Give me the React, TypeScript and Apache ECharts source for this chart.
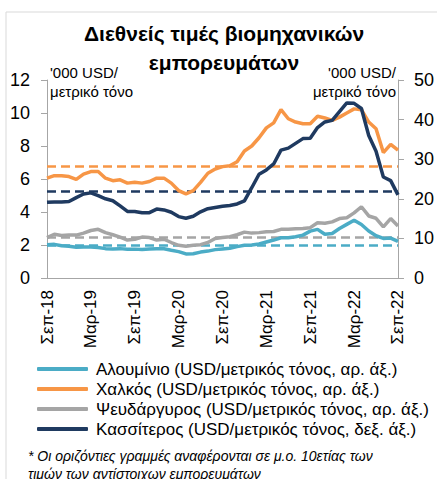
import React, { useEffect, useRef } from "react";
import * as echarts from "echarts";

const monthNames = ["Ιαν", "Φεβ", "Μαρ", "Απρ", "Μαϊ", "Ιουν", "Ιουλ", "Αυγ", "Σεπ", "Οκτ", "Νοε", "Δεκ"];
// Sep 2018 .. Sep 2022
const categories: string[] = [];
for (let k = 0; k < 49; k++) {
  const m = (8 + k) % 12;
  const y = 18 + Math.floor((8 + k) / 12);
  categories.push(`${monthNames[m]}-${y}`);
}

const aluminium = [2.02, 2.04, 1.95, 1.92, 1.86, 1.88, 1.88, 1.85, 1.78, 1.76, 1.78, 1.74, 1.75, 1.73, 1.76, 1.77, 1.77, 1.68, 1.6, 1.46, 1.47, 1.57, 1.63, 1.72, 1.76, 1.8, 1.9, 1.98, 2.0, 2.06, 2.18, 2.3, 2.44, 2.44, 2.5, 2.6, 2.84, 2.95, 2.65, 2.7, 3.0, 3.25, 3.5, 3.24, 2.85, 2.56, 2.4, 2.42, 2.22];
const copper = [6.05, 6.2, 6.2, 6.15, 5.98, 6.3, 6.45, 6.45, 6.05, 5.9, 5.95, 5.75, 5.8, 5.75, 5.85, 6.05, 6.05, 5.75, 5.3, 5.1, 5.3, 5.8, 6.35, 6.6, 6.75, 6.8, 7.05, 7.7, 8.0, 8.5, 9.1, 9.4, 10.2, 9.65, 9.45, 9.35, 9.35, 9.8, 9.7, 9.55, 9.75, 10.0, 10.25, 10.2, 9.45, 9.05, 7.6, 8.1, 7.75];
const zinc = [2.45, 2.65, 2.58, 2.6, 2.6, 2.72, 2.88, 2.95, 2.75, 2.62, 2.48, 2.3, 2.35, 2.48, 2.45, 2.3, 2.35, 2.15, 1.98, 1.92, 1.98, 2.02, 2.15, 2.4, 2.45, 2.5, 2.62, 2.78, 2.72, 2.75, 2.8, 2.82, 2.95, 2.95, 2.98, 3.0, 3.05, 3.35, 3.32, 3.4, 3.6, 3.65, 3.95, 4.32, 3.76, 3.62, 3.1, 3.6, 3.15];
const tin = [19.1, 19.2, 19.2, 19.3, 20.3, 21.2, 21.5, 20.8, 20.0, 19.5, 18.2, 16.8, 16.8, 16.5, 16.5, 17.4, 17.2, 16.6, 15.5, 15.1, 15.6, 16.7, 17.5, 17.8, 18.1, 18.3, 18.7, 19.5, 22.8, 26.2, 27.3, 28.8, 32.3, 32.8, 34.0, 35.2, 35.3, 38.0, 39.4, 39.8, 42.0, 44.2, 44.1, 42.8, 36.0, 32.0, 25.5, 24.6, 21.0];

// 10-year averages
const aluminiumAvg = 2.0;
const copperAvg = 6.8;
const zincAvg = 2.5;
const tinAvg = 22.0;

const leftTicks = { min: 0, max: 12, interval: 2 };
const rightTicks = { min: 0, max: 50, interval: 10 };

const seriesNames = [
  "Αλουμίνιο (USD/μετρικός τόνος, αρ. άξ.)",
  "Χαλκός (USD/μετρικός τόνος, αρ. άξ.)",
  "Ψευδάργυρος (USD/μετρικός τόνος, αρ. άξ.)",
  "Κασσίτερος (USD/μετρικός τόνος, δεξ. άξ.)",
];
const colors = ["#4bacc6", "#f79646", "#a5a5a5", "#1f3a60"];

const FONT = "Liberation Sans";

export default function App() {
  const ref = useRef<HTMLDivElement>(null);
  useEffect(() => {
    if (!ref.current) return;
    const chart = echarts.init(ref.current, null, { renderer: "svg" });
    const datasets = [aluminium, copper, zinc, tin];
    const avgs = [aluminiumAvg, copperAvg, zincAvg, tinAvg];
    const series: any[] = datasets.map((d, i) => ({
      name: seriesNames[i],
      type: "line",
      data: d,
      yAxisIndex: i === 3 ? 1 : 0,
      symbol: "none",
      lineStyle: { width: 3.5, color: colors[i] },
      itemStyle: { color: colors[i] },
      z: 3 + i,
      markLine: {
        silent: true,
        symbol: "none",
        label: { show: false },
        lineStyle: { type: [9, 5], width: 2.5, color: colors[i] },
        data: [{ yAxis: avgs[i] }],
        z: 2,
      },
    }));
    const axisColor = "#a6a6a6";
    chart.setOption({
      animation: false,
      textStyle: { fontFamily: FONT },
      grid: { left: 47, right: 35, top: 80, bottom: 201 },
      legend: {
        data: seriesNames,
        orient: "vertical",
        left: 32,
        top: 354,
        itemWidth: 51,
        itemHeight: 4,
        itemGap: 0,
        icon: "roundRect",
        textStyle: { fontFamily: FONT, fontSize: 17, color: "#000", lineHeight: 20, padding: [0, 0, 0, 3] },
        selectedMode: false,
      },
      xAxis: {
        type: "category",
        data: categories,
        boundaryGap: false,
        axisLine: { lineStyle: { color: axisColor, width: 1 } },
        axisTick: { show: false },
        axisLabel: { interval: 5, rotate: 90, fontSize: 17, margin: 12, color: "#000", fontFamily: FONT },
        splitLine: { show: false },
      },
      yAxis: [
        {
          type: "value",
          ...leftTicks,
          axisLine: { show: true, lineStyle: { color: axisColor } },
          axisTick: { show: true, length: 6, lineStyle: { color: axisColor } },
          axisLabel: { fontSize: 18, margin: 17, color: "#000", fontFamily: FONT },
          splitLine: { show: false },
        },
        {
          type: "value",
          position: "right",
          ...rightTicks,
          axisLine: { show: true, lineStyle: { color: axisColor } },
          axisTick: { show: true, length: 6, lineStyle: { color: axisColor } },
          axisLabel: { fontSize: 18, margin: 16, color: "#000", fontFamily: FONT },
          splitLine: { show: false },
        },
      ],
      graphic: [
        { type: "rect", shape: { x: 6, y: 12, width: 600, height: 600 }, style: { fill: "none", stroke: "#d9d9d9", lineWidth: 1 }, silent: true, z: -1 },
        { type: "text", x: 224, y: 33, style: { text: "Διεθνείς τιμές βιομηχανικών", fontFamily: FONT, fontSize: 21, fontWeight: "bold", fill: "#000", textAlign: "center", textVerticalAlign: "middle" } },
        { type: "text", x: 224, y: 62, style: { text: "εμπορευμάτων", fontFamily: FONT, fontSize: 21, fontWeight: "bold", fill: "#000", textAlign: "center", textVerticalAlign: "middle" } },
        { type: "text", x: 50, y: 72, style: { text: "'000 USD/", fontFamily: FONT, fontSize: 15, fill: "#000", textAlign: "left", textVerticalAlign: "middle" } },
        { type: "text", x: 50, y: 91, style: { text: "μετρικό τόνο", fontFamily: FONT, fontSize: 15, fill: "#000", textAlign: "left", textVerticalAlign: "middle" } },
        { type: "text", x: 396, y: 72, style: { text: "'000 USD/", fontFamily: FONT, fontSize: 15, fill: "#000", textAlign: "right", textVerticalAlign: "middle" } },
        { type: "text", x: 396, y: 91, style: { text: "μετρικό τόνο", fontFamily: FONT, fontSize: 15, fill: "#000", textAlign: "right", textVerticalAlign: "middle" } },
        { type: "text", x: 28, y: 456, style: { text: "* Οι οριζόντιες γραμμές αναφέρονται σε μ.ο. 10ετίας των", fontFamily: FONT, fontSize: 14, fontStyle: "italic", fill: "#000", textAlign: "left", textVerticalAlign: "middle" } },
        { type: "text", x: 28, y: 474, style: { text: "τιμών των αντίστοιχων εμπορευμάτων", fontFamily: FONT, fontSize: 14, fontStyle: "italic", fill: "#000", textAlign: "left", textVerticalAlign: "middle" } },
      ],
      series,
    });
    return () => chart.dispose();
  }, []);
  return <div ref={ref} style={{ position: "fixed", left: 0, top: 0, width: 437, height: 479, background: "#fff" }} />;
}
